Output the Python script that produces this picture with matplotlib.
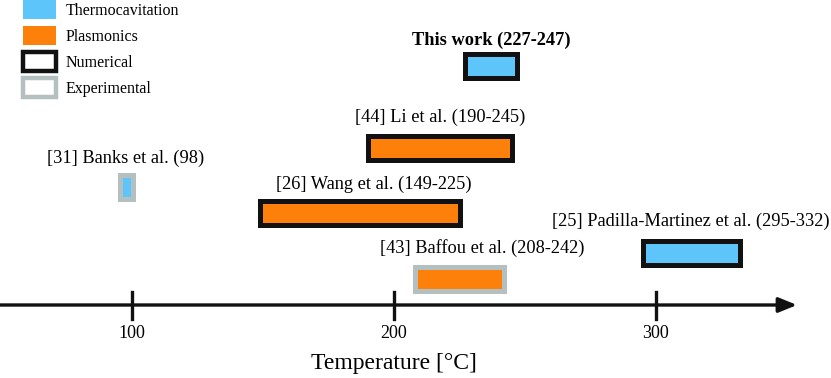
import matplotlib
matplotlib.use('Agg')
import matplotlib.pyplot as plt
from matplotlib.patches import Patch

plt.rcParams['font.family'] = ['Liberation Serif', 'DejaVu Serif']

# data
labels = ['This work (227-247)', '[44] Li et al. (190-245)', '[31] Banks et al. (98)',
          '[26] Wang et al. (149-225)', '[25] Padilla-Martinez et al. (295-332)',
          '[43] Baffou et al. (208-242)']
t_low = [227, 190, 95.5, 149, 295, 208]
t_high = [247, 245, 100.5, 225, 332, 242]
method = ['Thermocavitation', 'Plasmonics', 'Thermocavitation', 'Plasmonics',
          'Thermocavitation', 'Plasmonics']
study = ['Numerical', 'Numerical', 'Experimental', 'Numerical', 'Numerical', 'Experimental']
ticks = [100, 200, 300]

# layout: rows in pixel units from the top, label centres in degrees
rows = [66, 148, 187, 213, 253, 279]
label_x = [237, 217.6, 97.7, 192.4, 313.4, 233.6]
label_y = [40, 117, 158, 184, 221, 248]

fill = {'Thermocavitation': '#5ec5fb', 'Plasmonics': '#fd800a'}
edge = {'Numerical': '#111111', 'Experimental': '#b3c0bf'}

fig = plt.figure(figsize=(8.31, 3.78), dpi=100)
ax = fig.add_axes([0, 0, 1, 1])
ax.set_xlim(49.6, 366.8)
ax.set_ylim(378, 0)
ax.axis('off')

for i in range(len(labels)):
    ax.barh(rows[i], t_high[i] - t_low[i], left=t_low[i], height=24,
            color=fill[method[i]], edgecolor=edge[study[i]], linewidth=3.6)
    ax.text(label_x[i], label_y[i], labels[i], ha='center', va='center',
            fontsize=13.2, fontweight='bold' if i == 0 else 'normal')

# temperature axis with arrow
ax.annotate('', xy=(353.8, 305), xytext=(49, 305),
            arrowprops=dict(arrowstyle='-|>,head_length=1.1,head_width=0.45', lw=2.4, color='#111111',
                            shrinkA=0, shrinkB=0))
for t in ticks:
    ax.plot([t, t], [292, 319], color='#111111', lw=2.4)
    ax.text(t, 334, str(t), ha='center', va='center', fontsize=13)
ax.text(200, 364, 'Temperature [°C]', ha='center', va='center', fontsize=17)

handles = [Patch(facecolor=fill['Thermocavitation']),
           Patch(facecolor=fill['Plasmonics']),
           Patch(facecolor='white', edgecolor=edge['Numerical'], linewidth=3.2),
           Patch(facecolor='white', edgecolor=edge['Experimental'], linewidth=3.2)]
ax.legend(handles, ['Thermocavitation', 'Plasmonics', 'Numerical', 'Experimental'],
          loc='upper left', bbox_to_anchor=(0.028, 1.0), frameon=False, fontsize=11.5,
          handlelength=2.06, handleheight=1.43, labelspacing=0.45, handletextpad=0.62,
          borderpad=0, borderaxespad=0)

fig.savefig('out.png', dpi=100)
